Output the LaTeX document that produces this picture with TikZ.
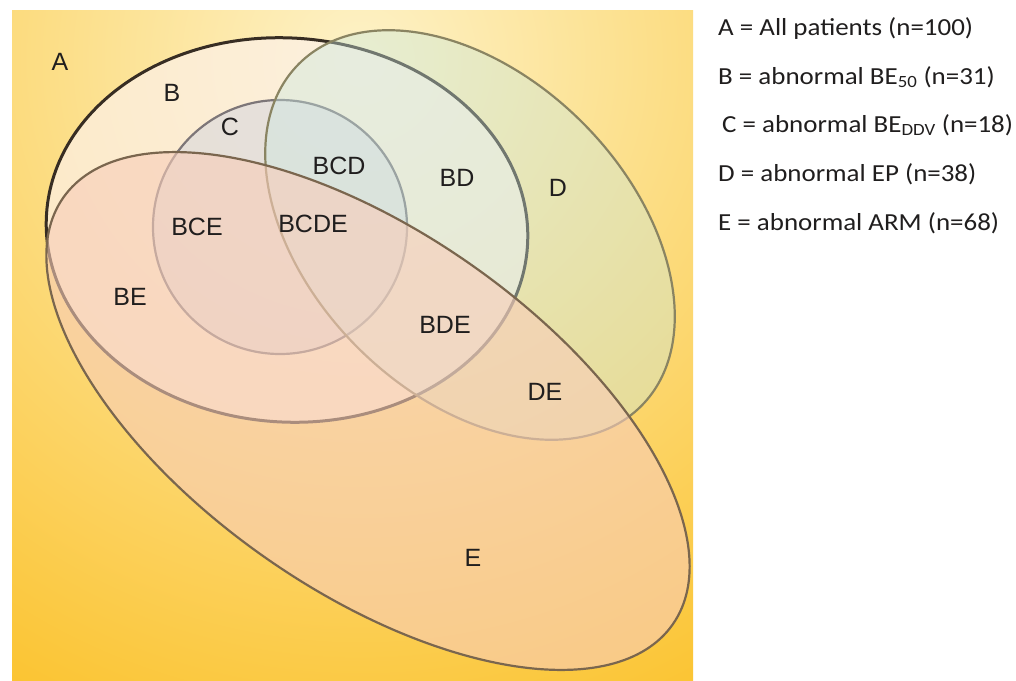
\documentclass[tikz,border=0pt]{standalone}
\usepackage{fontspec}
\setmainfont{Liberation Sans}
\newfontfamily\legendfont{Carlito}[FakeStretch=1.1]
\definecolor{bgouter}{RGB}{251,193,40}
\definecolor{bginner}{RGB}{253,242,200}
\definecolor{fillB}{RGB}{252,240,230}
\definecolor{fillC}{RGB}{190,200,228}
\definecolor{fillD}{RGB}{200,232,225}
\definecolor{fillE}{RGB}{248,205,185}
\definecolor{lineB}{RGB}{55,45,35}
\definecolor{lineC}{RGB}{125,118,120}
\definecolor{lineD}{RGB}{138,132,98}
\definecolor{lineE}{RGB}{122,102,78}
\definecolor{labeltext}{RGB}{32,30,30}
\tikzset{
    set/.style={line width=2.2pt},
    set B/.style={set, draw=lineB, line width=3pt, fill=fillB, fill opacity=0.72},
    set C/.style={set, draw=lineC, fill=fillC, fill opacity=0.35},
    set D/.style={set, draw=lineD, fill=fillD, fill opacity=0.4},
    set E/.style={set, draw=lineE, fill=fillE, fill opacity=0.6},
    region/.style={font=\fontsize{25}{30}\selectfont, text=labeltext, inner sep=0pt},
    legend entry/.style={font=\legendfont\fontsize{24.5}{30}\selectfont, text=labeltext, anchor=base west, inner sep=0pt}
}
\begin{document}
\begin{tikzpicture}[x=1pt, y=1pt]
	\useasboundingbox (0,0) rectangle (1016,-680);
	\fill[white] (0,0) rectangle (1016,-680);
	% background = all patients
	\begin{scope}
		\clip (12,-10) rectangle (693,-680);
		\shade[inner color=bginner, outer color=bgouter] (360,-60) circle (760);
	\end{scope}
	% the four sets
	\draw[set B, rotate around={-4:(287,-230)}] (287,-230) ellipse [x radius=241, y radius=192];
	\draw[set C] (280,-227) circle (127);
	\draw[set D, rotate around={-45:(470,-235)}] (470,-235) ellipse [x radius=242, y radius=159];
	\draw[set E, rotate around={-35:(368,-411)}] (368,-411) ellipse [x radius=372, y radius=179];
	% region labels
	\node[region] (lblA) at (60,-62) {A};
	\node[region] (lblB) at (172,-93) {B};
	\node[region] (lblC) at (230,-127) {C};
	\node[region] (lblBCD) at (339,-166) {BCD};
	\node[region] (lblBD) at (457,-178) {BD};
	\node[region] (lblD) at (558,-188) {D};
	\node[region] (lblBCE) at (197,-227) {BCE};
	\node[region] (lblBCDE) at (313,-224) {BCDE};
	\node[region] (lblBE) at (130,-297) {BE};
	\node[region] (lblBDE) at (445,-325) {BDE};
	\node[region] (lblDE) at (545,-392) {DE};
	\node[region] (lblE) at (473,-558) {E};
	% legend
	\node[legend entry] (legA) at (718,-35) {A = All patients (n=100)};
	\node[legend entry] (legB) at (718,-84) {B = abnormal BE\textsubscript{50} (n=31)};
	\node[legend entry] (legC) at (722,-132) {C = abnormal BE\textsubscript{DDV} (n=18)};
	\node[legend entry] (legD) at (718,-181) {D = abnormal EP (n=38)};
	\node[legend entry] (legE) at (718,-230) {E = abnormal ARM (n=68)};
\end{tikzpicture}
\end{document}
